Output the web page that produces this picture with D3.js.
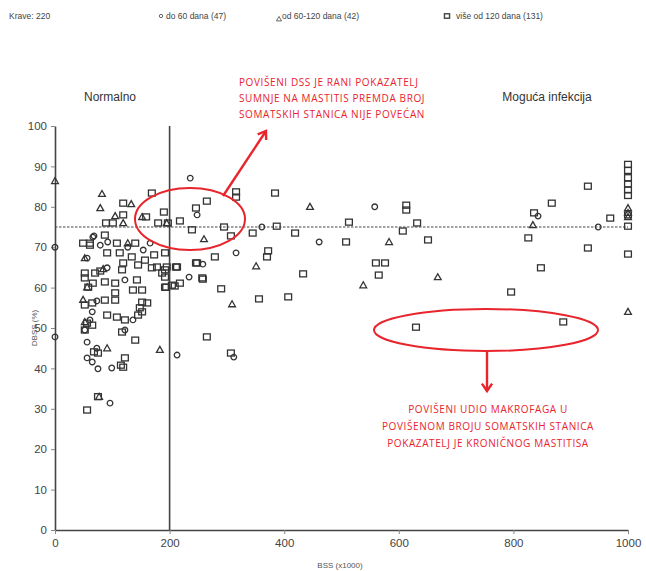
<!DOCTYPE html>
<html>
<head>
<meta charset="utf-8">
<script src="https://cdn.jsdelivr.net/npm/d3@7"></script>
<style>
    body { margin: 0; background: #fff; }
    svg { display: block; font-family: "Liberation Sans", Arial, sans-serif; }
    .note { font-family: "Open Sans", sans-serif; font-size: 10px; fill: #e8242c; letter-spacing: 0.6px; }
</style>
</head>
<body>
<div id="chart"></div>
<script>
// BSS (x1000) , DBSS (%) pairs
var doSezdeset = [ // krave do 60 dana
    [0, 70], [0, 47.8], [236, 87.1], [248, 78], [68, 72.8], [361, 75], [461, 71.3],
    [316, 68.6], [258, 65.8], [234, 62.6], [213, 43.3], [312, 42.8], [558, 80],
    [843, 77.7], [948, 75], [79, 70.5], [92, 71.3], [154, 69.3], [56, 67.3],
    [91, 64.9], [122, 61.9], [73, 56.7], [65, 54], [136, 52], [61, 52], [122, 49.5],
    [56, 46.5], [73, 45], [56, 42.6], [65, 41.6], [75, 39.9], [99, 40.1], [96, 31.4],
    [66, 72.5], [52, 49.5], [127, 70], [166, 71]
];

var odSezdesetDo120 = [ // 60-120 dana
    [0, 86.4], [82, 83.2], [79, 79.7], [133, 80.7], [105, 77.7], [152, 77.5],
    [119, 76], [445, 80], [260, 72], [351, 65.3], [309, 55.9], [583, 71.3],
    [538, 60.6], [668, 62.6], [834, 75.5], [1000, 79.7], [1000, 78.5], [1000, 77.5],
    [1000, 54], [183, 44.6], [91, 45], [127, 71], [52, 67.3], [56, 60.1], [49, 57],
    [52, 51.5], [77, 33], [84, 64.6], [195, 76]
];

var viseOd120 = [ // vise od 120 dana
    [169, 83.4], [119, 80.9], [190, 78.7], [119, 78], [159, 77.5], [89, 76], [101, 76],
    [180, 76], [197, 76], [218, 76.5], [246, 79.7], [239, 74.3], [87, 73], [316, 83.7],
    [316, 82.4], [384, 83.4], [265, 81.4], [295, 75], [307, 72.8], [387, 75.2],
    [345, 73.5], [419, 73.5], [513, 76.2], [508, 71.3], [372, 69.1], [370, 67.6],
    [279, 67.6], [433, 63.4], [246, 66.1], [211, 65.1], [258, 62.1], [290, 59.7],
    [356, 57.2], [407, 57.7], [265, 47.8], [307, 43.8], [613, 80.4], [613, 79.2],
    [632, 76], [607, 74], [651, 71.8], [560, 66.1], [576, 66.1], [565, 63.1],
    [630, 50.2], [796, 58.9], [887, 51.5], [826, 72.3], [836, 78.5], [867, 80.9],
    [848, 64.9], [930, 69.8], [930, 85.1], [969, 77.2],
    [1000, 90.5], [1000, 89], [1000, 87.2], [1000, 85.6], [1000, 84.2], [1000, 82.8],
    [1000, 78], [1000, 75.2], [1000, 68.3],
    [49, 71], [61, 71], [108, 71], [140, 71], [91, 68.6], [113, 68.6], [134, 67.6],
    [173, 68.1], [192, 68.6], [119, 66.1], [145, 65.6], [157, 66.8], [178, 65.1],
    [195, 65.1], [213, 65.1], [248, 66.1], [79, 64.1], [70, 63.6], [52, 63.6],
    [117, 64.4], [169, 64.9], [187, 63.6], [192, 62.6], [257, 62.4], [52, 62.4],
    [66, 61.1], [87, 61.4], [105, 61.1], [143, 61.9], [58, 60.1], [136, 59.4],
    [152, 59.4], [192, 60.1], [204, 60.6], [218, 61.1], [105, 58.7], [105, 56.9],
    [52, 55.7], [65, 56.2], [87, 56.9], [152, 56.4], [161, 56.2], [148, 55],
    [91, 53.2], [108, 52.7], [122, 52], [145, 53.2], [152, 54], [56, 51.2],
    [65, 50.7], [117, 49], [140, 47], [68, 44.1], [75, 43.8], [115, 40.8],
    [122, 42.6], [56, 29.7], [75, 33], [52, 49.5], [61, 70.5], [192, 64.4],
    [194, 60.1], [209, 60.4], [119, 40.3]
];

var xTicks = [0, 200, 400, 600, 800, 1000];
var yTicks = [0, 10, 20, 30, 40, 50, 60, 70, 80, 90, 100];
var granicaBss = 200, granicaDbss = 75;

var legendItems = [
    {type: "circle", text: "do 60 dana (47)"},
    {type: "triangle", text: "od 60-120 dana (42)"},
    {type: "square", text: "više od 120 dana (131)"}
];

var noteTop = ["POVIŠENI DSS JE RANI POKAZATELJ",
               "SUMNJE NA MASTITIS PREMDA BROJ",
               "SOMATSKIH STANICA NIJE POVEĆAN"];
var noteBottom = ["POVIŠENI UDIO MAKROFAGA U",
                  "POVIŠENOM BROJU SOMATSKIH STANICA",
                  "POKAZATELJ JE KRONIČNOG MASTITISA"];

var width = 646, height = 571;
var ink = "#333", red = "#e8242c";

var svg = d3.select("#chart").append("svg")
    .attr("width", width)
    .attr("height", height);

var x = d3.scaleLinear().domain([0, 1000]).range([55, 628]);
var y = d3.scaleLinear().domain([0, 100]).range([530, 126]);

var layers = {};

/* LAYERS */
layers.axes = function () {
    var gy = svg.append("g")
        .attr("transform", "translate(" + x(0) + ",0)")
        .call(d3.axisLeft(y).tickValues(yTicks).tickSize(4).tickSizeOuter(0).tickPadding(4));
    var gx = svg.append("g")
        .attr("transform", "translate(0," + y(0) + ")")
        .call(d3.axisBottom(x).tickValues(xTicks).tickFormat(d3.format("d"))
            .tickSize(4).tickSizeOuter(0).tickPadding(5));

    [gx, gy].forEach(function (g) {
        g.select(".domain").attr("stroke", "#444").attr("stroke-width", 1.6);
        g.selectAll(".tick line").attr("stroke", "#888");
        g.selectAll(".tick text")
            .attr("fill", "#444")
            .style("font-family", "Liberation Sans, Arial, sans-serif")
            .style("font-size", "11.5px");
    });

    svg.append("text")
        .attr("x", 340).attr("y", 568)
        .attr("text-anchor", "middle")
        .attr("fill", "#555")
        .style("font-size", "8px")
        .text("BSS (x1000)");

    svg.append("text")
        .attr("transform", "translate(37," + y(50) + ") rotate(-90)")
        .attr("text-anchor", "middle")
        .attr("fill", "#555")
        .style("font-size", "8px")
        .text("DBSS (%)");
};

layers.limits = function () {
    svg.append("line")
        .attr("x1", x(granicaBss)).attr("x2", x(granicaBss))
        .attr("y1", y(0)).attr("y2", y(100))
        .attr("stroke", "#444").attr("stroke-width", 1.6);

    svg.append("line")
        .attr("x1", x(0)).attr("x2", x(1000))
        .attr("y1", y(granicaDbss)).attr("y2", y(granicaDbss))
        .attr("stroke", "#444").attr("stroke-width", 1.1)
        .attr("stroke-dasharray", "2.5,1.5");

    svg.append("text")
        .attr("x", 110).attr("y", 101)
        .attr("text-anchor", "middle")
        .attr("fill", "#333")
        .style("font-size", "12px")
        .text("Normalno");

    svg.append("text")
        .attr("x", 547).attr("y", 101)
        .attr("text-anchor", "middle")
        .attr("fill", "#333")
        .style("font-size", "12px")
        .text("Moguća infekcija");
};

// one shape per group, drawn around 0,0
function drawMarker(sel, type, s) {
    s = s || 1;
    if (type === "circle") {
        sel.append("circle").attr("r", 2.8 * s);
    } else if (type === "triangle") {
        sel.append("path").attr("d", "M0," + (-3.4 * s) + "L" + (3.4 * s) + "," + (2.6 * s) + "L" + (-3.4 * s) + "," + (2.6 * s) + "Z");
    } else {
        sel.append("rect").attr("x", -3.4 * s).attr("y", -3 * s)
            .attr("width", 6.8 * s).attr("height", 6 * s);
    }
}

layers.points = function (data, type) {
    var g = svg.append("g").attr("class", "points-" + type);
    g.selectAll("g")
        .data(data)
        .enter()
        .append("g")
        .attr("transform", function (d) {
            return "translate(" + x(d[0]) + "," + y(d[1]) + ")";
        })
        .each(function () {
            drawMarker(d3.select(this), type);
        });
    g.selectAll("circle, rect, path")
        .attr("fill", "none")
        .attr("stroke", ink)
        .attr("stroke-width", 1.3);
};

layers.legend = function () {
    var g = svg.append("g").style("font-size", "8.5px").attr("fill", "#444");
    g.append("text").attr("x", 9).attr("y", 19).text("Krave: 220");

    var pos = [{mx: 161, tx: 166}, {mx: 279, tx: 282}, {mx: 447, tx: 456}];
    legendItems.forEach(function (item, i) {
        var m = g.append("g").attr("transform", "translate(" + pos[i].mx + "," + (i === 1 ? 19 : 16) + ")");
        drawMarker(m, item.type, i === 0 ? 0.6 : 0.75);
        m.selectAll("*").attr("fill", "none").attr("stroke", "#444").attr("stroke-width", i === 2 ? 1.4 : 0.8);
        g.append("text").attr("x", pos[i].tx).attr("y", 19).text(item.text);
    });
};

function arrow(x1, y1, x2, y2) {
    var a = Math.atan2(y2 - y1, x2 - x1), len = 9, spread = 0.6;
    svg.append("line")
        .attr("x1", x1).attr("y1", y1).attr("x2", x2).attr("y2", y2)
        .attr("stroke", red).attr("stroke-width", 2.4);
    svg.append("path")
        .attr("d", "M" + (x2 - len * Math.cos(a - spread)) + "," + (y2 - len * Math.sin(a - spread)) +
            "L" + x2 + "," + y2 +
            "L" + (x2 - len * Math.cos(a + spread)) + "," + (y2 - len * Math.sin(a + spread)))
        .attr("fill", "none").attr("stroke", red).attr("stroke-width", 2.4);
}

layers.notes = function () {
    svg.append("ellipse")
        .attr("cx", 190).attr("cy", 219).attr("rx", 55).attr("ry", 31)
        .attr("fill", "none").attr("stroke", red).attr("stroke-width", 2);
    arrow(223, 196, 266, 131);

    svg.append("ellipse")
        .attr("cx", 486).attr("cy", 330).attr("rx", 112).attr("ry", 21)
        .attr("fill", "none").attr("stroke", red).attr("stroke-width", 2);
    arrow(487, 351, 487, 391);

    svg.selectAll("text.noteTop")
        .data(noteTop)
        .enter()
        .append("text")
        .attr("class", "note noteTop")
        .attr("x", 239)
        .attr("y", function (d, i) { return 86 + i * 16; })
        .text(function (d) { return d; });

    svg.selectAll("text.noteBottom")
        .data(noteBottom)
        .enter()
        .append("text")
        .attr("class", "note noteBottom")
        .attr("x", 488)
        .attr("text-anchor", "middle")
        .attr("y", function (d, i) { return 413 + i * 17; })
        .text(function (d) { return d; });
};

layers.axes();
layers.limits();
layers.points(viseOd120, "square");
layers.points(odSezdesetDo120, "triangle");
layers.points(doSezdeset, "circle");
layers.legend();
layers.notes();
</script>
</body>
</html>
